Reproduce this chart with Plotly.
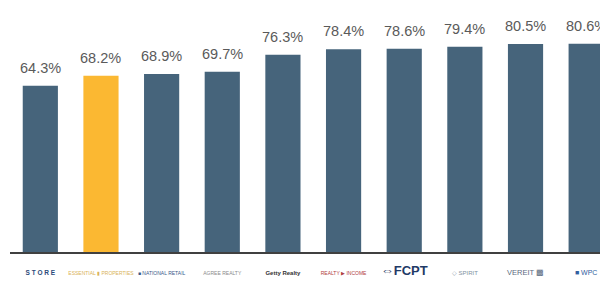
import plotly.graph_objects as go

companies = ["STORE Capital", "Essential Properties", "National Retail Properties", "Agree Realty",
             "Getty Realty", "Realty Income", "FCPT", "Spirit", "VEREIT", "W. P. Carey"]
logo_text = ["S T O R E", "ESSENTIAL ▮ PROPERTIES", "■ NATIONAL RETAIL", "AGREE REALTY",
             "Getty Realty", "REALTY ▶ INCOME", "⇔FCPT", "◇ SPIRIT", "VEREIT ▩", "■ WPC"]
logo_colors = ["#2b4a7a", "#d9b35a", "#3a5a8a", "#8a8a8a", "#333333", "#b04040", "#1f3a66", "#8090a0", "#5a6a80", "#3060a0"]
values = [64.3, 68.2, 68.9, 69.7, 76.3, 78.4, 78.6, 79.4, 80.5, 80.6]
highlight = "Essential Properties"

bar_colors = ["#fbb832" if c == highlight else "#46647b" for c in companies]

fig = go.Figure(go.Bar(x=companies, y=values, marker_color=bar_colors, marker_line_width=0))

for c, v in zip(companies, values):
    fig.add_annotation(x=c, y=v, text=f"{v:.1f}%", showarrow=False, yanchor="bottom", yshift=8,
                       font=dict(family="Liberation Sans, Arial", size=14.5, color="#5a5a5a"))

sizes = {"⇔FCPT": 13, "Getty Realty": 6, "VEREIT ▩": 7.5, "◇ SPIRIT": 6, "S T O R E": 6.5, "■ WPC": 7}
ticktext = []
for t, col in zip(logo_text, logo_colors):
    size = sizes.get(t, 5)
    bold = t in ("⇔FCPT", "Getty Realty", "S T O R E")
    inner = f"<b>{t}</b>" if bold else t
    ticktext.append(f"<span style='color:{col};font-size:{size}px'>{inner}</span>")

fig.update_layout(
    width=600, height=275,
    margin=dict(l=2, r=0, t=0, b=31),
    plot_bgcolor="white", paper_bgcolor="white",
    bargap=0.42,
    showlegend=False,
    xaxis=dict(range=[-0.5, 9.36], showline=True, linecolor="#404040", linewidth=1.5,
               tickmode="array", tickvals=companies, ticktext=ticktext, ticks="",
               tickangle=0, automargin=False, ticklabelstandoff=14,
               tickfont=dict(family="Liberation Sans, Arial", size=6, color="#555555"),
               showgrid=False, zeroline=False),
    yaxis=dict(range=[0, 94.4], visible=False, showgrid=False, zeroline=False, automargin=False),
)

fig.write_html("out.html")
